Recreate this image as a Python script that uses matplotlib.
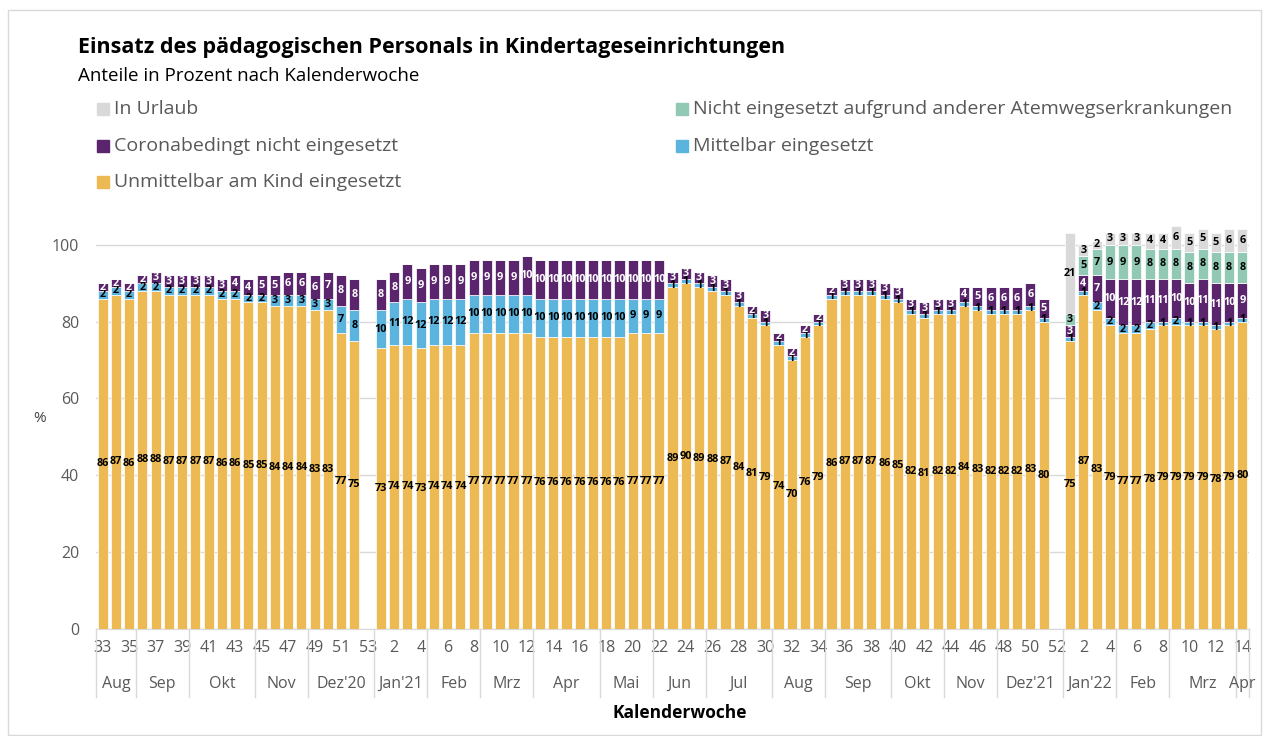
import numpy as np
import matplotlib
matplotlib.use("Agg")
import matplotlib.pyplot as plt
from matplotlib.patches import Rectangle

plt.rcParams['font.family'] = ['Open Sans', 'DejaVu Sans']

# Kalenderwochen: 2020 KW33-53, 2021 KW1-52, 2022 KW1-14
weeks = list(range(33, 54)) + list(range(1, 53)) + list(range(1, 15))

nan = np.nan
unmittelbar = ([86, 87, 86, 88, 88, 87, 87, 87, 87, 86, 86, 85, 85, 84, 84, 84, 83, 83, 77, 75, nan]
               + [73, 74, 74, 73, 74, 74, 74, 77, 77, 77, 77, 77, 76, 76, 76, 76, 76, 76, 76, 77, 77, 77]
               + [89, 90, 89, 88, 87, 84, 81, 79, 74, 70, 76, 79]
               + [86, 87, 87, 87, 86, 85, 82, 81, 82, 82, 84, 83, 82, 82, 82, 83, 80, nan]
               + [75, 87, 83, 79, 77, 77, 78, 79, 79, 79, 79, 78, 79, 80])
mittelbar = ([2] * 13 + [3] * 5 + [7, 8, nan]
             + [10, 11, 12, 12, 12, 12, 12] + [10] * 12 + [9, 9, 9]
             + [1] * 29 + [nan]
             + [1, 1, 2, 2, 2, 2, 2, 1, 2, 1, 1, 1, 1, 1])
corona = ([2, 2, 2, 2, 3, 3, 3, 3, 3, 3, 4, 4, 5, 5, 6, 6, 6, 7, 8, 8, nan]
          + [8, 8, 9, 9, 9, 9, 9, 9, 9, 9, 9, 10, 10, 10, 10, 10, 10, 10, 10, 10, 10, 10]
          + [3, 3, 3, 3, 3, 3, 2, 3, 2, 2, 2, 2]
          + [2, 3, 3, 3, 3, 3, 3, 3, 3, 3, 4, 5, 6, 6, 6, 6, 5, nan]
          + [3, 4, 7, 10, 12, 12, 11, 11, 10, 10, 11, 11, 10, 9])
atemweg = [0] * 73 + [3, 5, 7, 9, 9, 9, 8, 8, 8, 8, 8, 8, 8, 8]
urlaub = [0] * 73 + [21, 3, 2, 3, 3, 3, 4, 4, 6, 5, 5, 5, 6, 6]

months = ['Aug', 'Sep', 'Okt', 'Nov', "Dez'20", "Jan'21", 'Feb', 'Mrz', 'Apr', 'Mai',
          'Jun', 'Jul', 'Aug', 'Sep', 'Okt', 'Nov', "Dez'21", "Jan'22", 'Feb', 'Mrz', 'Apr']
month_len = [3, 4, 5, 4, 5, 4, 4, 4, 5, 4, 4, 5, 4, 5, 4, 4, 5, 4, 4, 5, 1]

series = [
    ('Unmittelbar am Kind eingesetzt', unmittelbar, '#ECB953', 'black'),
    ('Mittelbar eingesetzt', mittelbar, '#5AB4DE', 'black'),
    ('Coronabedingt nicht eingesetzt', corona, '#5B256E', 'white'),
    ('Nicht eingesetzt aufgrund anderer Atemwegserkrankungen', atemweg, '#91C9B4', 'black'),
    ('In Urlaub', urlaub, '#D9D9D9', 'black'),
]

fig = plt.figure(figsize=(12.68, 7.36), dpi=100)
ax = fig.add_axes([96 / 1268, 1 - 629 / 736, 1153 / 1268, 415 / 736])

x = np.arange(len(weeks))
bottom = np.zeros(len(weeks))
for name, vals, col, tcol in series:
    v = np.array(vals, dtype=float)
    ax.bar(x, np.nan_to_num(v), bottom=bottom, width=0.76, color=col,
           edgecolor='white', linewidth=0.5, zorder=3)
    for i in range(len(v)):
        if np.isnan(v[i]) or v[i] <= 0:
            continue
        ax.text(x[i], bottom[i] + v[i] / 2, '%d' % v[i], ha='center', va='center',
                fontsize=7.8, fontweight='bold', color=tcol, zorder=4)
    bottom = bottom + np.nan_to_num(v)

ax.set_xlim(-0.5, len(weeks) - 0.5)
ax.set_ylim(0, 108)
ax.set_yticks([0, 20, 40, 60, 80, 100])
ax.grid(axis='y', color='#D9D9D9', linewidth=1, zorder=0)
for s in ['top', 'right', 'left']:
    ax.spines[s].set_visible(False)
ax.spines['bottom'].set_color('#D9D9D9')
ax.tick_params(axis='y', length=0, pad=12, labelsize=11.5, labelcolor='#595959')
ax.set_xticks(x)
ax.set_xticklabels([str(w) if i % 2 == 0 else '' for i, w in enumerate(weeks)])
ax.tick_params(axis='x', length=0, pad=8, labelsize=11.5, labelcolor='#595959')

# Monatsebene der Achse
tr = ax.get_xaxis_transform()
start = -0.5
ax.plot([start, start], [0, -0.165], transform=tr, color='#D9D9D9', lw=1, clip_on=False)
for m, n in zip(months, month_len):
    end = start + n
    ax.text((start + end) / 2, -0.133, m, transform=tr, ha='center', va='center',
            fontsize=11.5, color='#595959')
    ax.plot([end, end], [0, -0.165], transform=tr, color='#D9D9D9', lw=1, clip_on=False)
    start = end

fig.text(680 / 1268, 1 - 713 / 736, 'Kalenderwoche', ha='center', va='center',
         fontsize=12.5, fontweight='bold')
fig.text(40 / 1268, 1 - 418 / 736, '%', ha='center', va='center', fontsize=11, color='#404040')

fig.text(78 / 1268, 1 - 47 / 736, 'Einsatz des pädagogischen Personals in Kindertageseinrichtungen',
         ha='left', va='center', fontsize=15.5, fontweight='bold')
fig.text(78 / 1268, 1 - 76 / 736, 'Anteile in Prozent nach Kalenderwoche',
         ha='left', va='center', fontsize=13.5)

# Legende
legend_pos = {
    'In Urlaub': (97, 109),
    'Nicht eingesetzt aufgrund anderer Atemwegserkrankungen': (676, 109),
    'Coronabedingt nicht eingesetzt': (97, 146),
    'Mittelbar eingesetzt': (676, 146),
    'Unmittelbar am Kind eingesetzt': (97, 182),
}
for name, vals, col, tcol in series:
    px, py = legend_pos[name]
    fig.patches.append(Rectangle((px / 1268, 1 - (py + 6) / 736), 12 / 1268, 12 / 736,
                                 transform=fig.transFigure, color=col))
    fig.text((px + 17) / 1268, 1 - py / 736, name, ha='left', va='center',
             fontsize=14, color='#595959')

# Rahmen
fig.patches.append(Rectangle((8 / 1268, 1 / 736), 1253 / 1268, 725 / 736, transform=fig.transFigure,
                             fill=False, edgecolor='#D9D9D9', linewidth=1))

fig.savefig('out.png', dpi=100)
